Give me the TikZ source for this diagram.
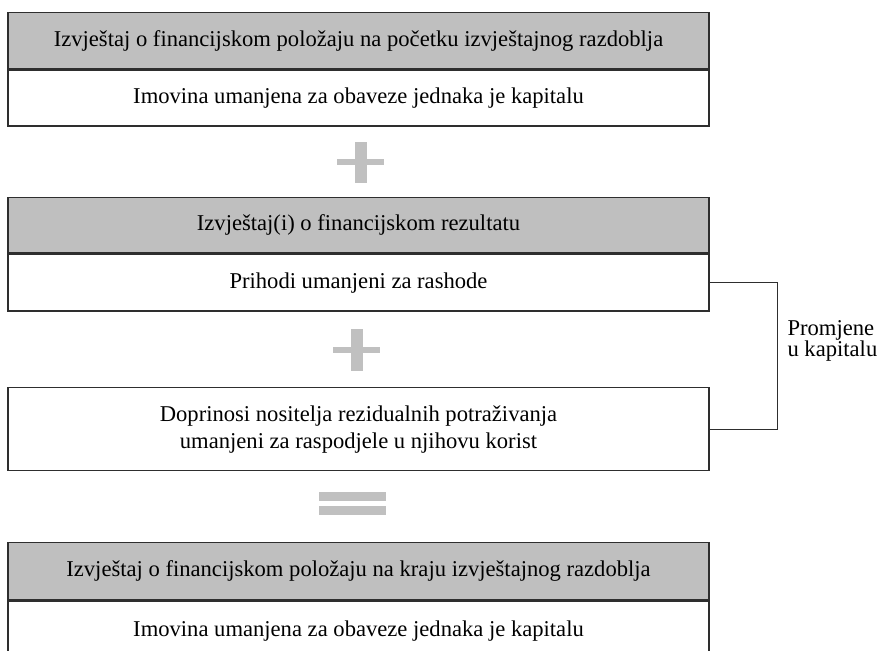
\documentclass[tikz,border=0pt]{standalone}
\usepackage{fontspec}
\setmainfont{Liberation Serif}
\usetikzlibrary{positioning}
\definecolor{headgray}{HTML}{BFBFBF}
\definecolor{signgray}{HTML}{C0C0C0}
\definecolor{linegray}{HTML}{2E2E2E}
\tikzstyle{head}=[draw=linegray, line width=1.4pt, fill=headgray, minimum width=701pt, minimum height=56pt, inner sep=0pt, anchor=north]
\tikzstyle{body}=[draw=linegray, line width=1.4pt, fill=white, minimum width=701pt, minimum height=56pt, inner sep=0pt, anchor=north, align=center]
\tikzstyle{sign}=[fill=signgray]

\begin{document}
\begin{tikzpicture}[x=1pt, y=-1pt, font=\fontsize{22.6}{27}\selectfont]
\useasboundingbox (0,0) rectangle (880,650);
\clip (0,0) rectangle (880,650);
\node[head] (Head1) at (358.5,12) {Izvještaj o financijskom položaju na početku izvještajnog razdoblja};
\node[body] (Body1) at (Head1.south) {Imovina umanjena za obaveze jednaka je kapitalu};
\node[head, minimum height=55pt] (Head2) at (358.5,197) {Izvještaj(i) o financijskom rezultatu};
\node[body, minimum height=57pt] (Body2) at (Head2.south) {Prihodi umanjeni za rashode};
\node[body, minimum height=83pt] (Body3) at (358.5,387) {Doprinosi nositelja rezidualnih potraživanja\\umanjeni za raspodjele u njihovu korist};
\node[head, minimum height=57pt] (Head4) at (358.5,542) {Izvještaj o financijskom položaju na kraju izvještajnog razdoblja};
\node[body, minimum height=60pt] (Body4) at (Head4.south) {Imovina umanjena za obaveze jednaka je kapitalu};
% plus and equals signs
\fill[sign] (355,142) rectangle (367,183);
\fill[sign] (337,159) rectangle (384,165);
\fill[sign] (351,329) rectangle (363,371);
\fill[sign] (333,347) rectangle (380,353);
\fill[sign] (319,492) rectangle (386,501);
\fill[sign] (319,506) rectangle (386,515);
% changes in equity
\node[anchor=west, align=left, font=\fontsize{22.6}{20}\selectfont] (Chg) at (784,341) {Promjene\\u kapitalu};
\draw[draw=linegray, line width=1.3pt] (Body2.east) -- ++(68,0) |- (Body3.east);
\end{tikzpicture}
\end{document}
